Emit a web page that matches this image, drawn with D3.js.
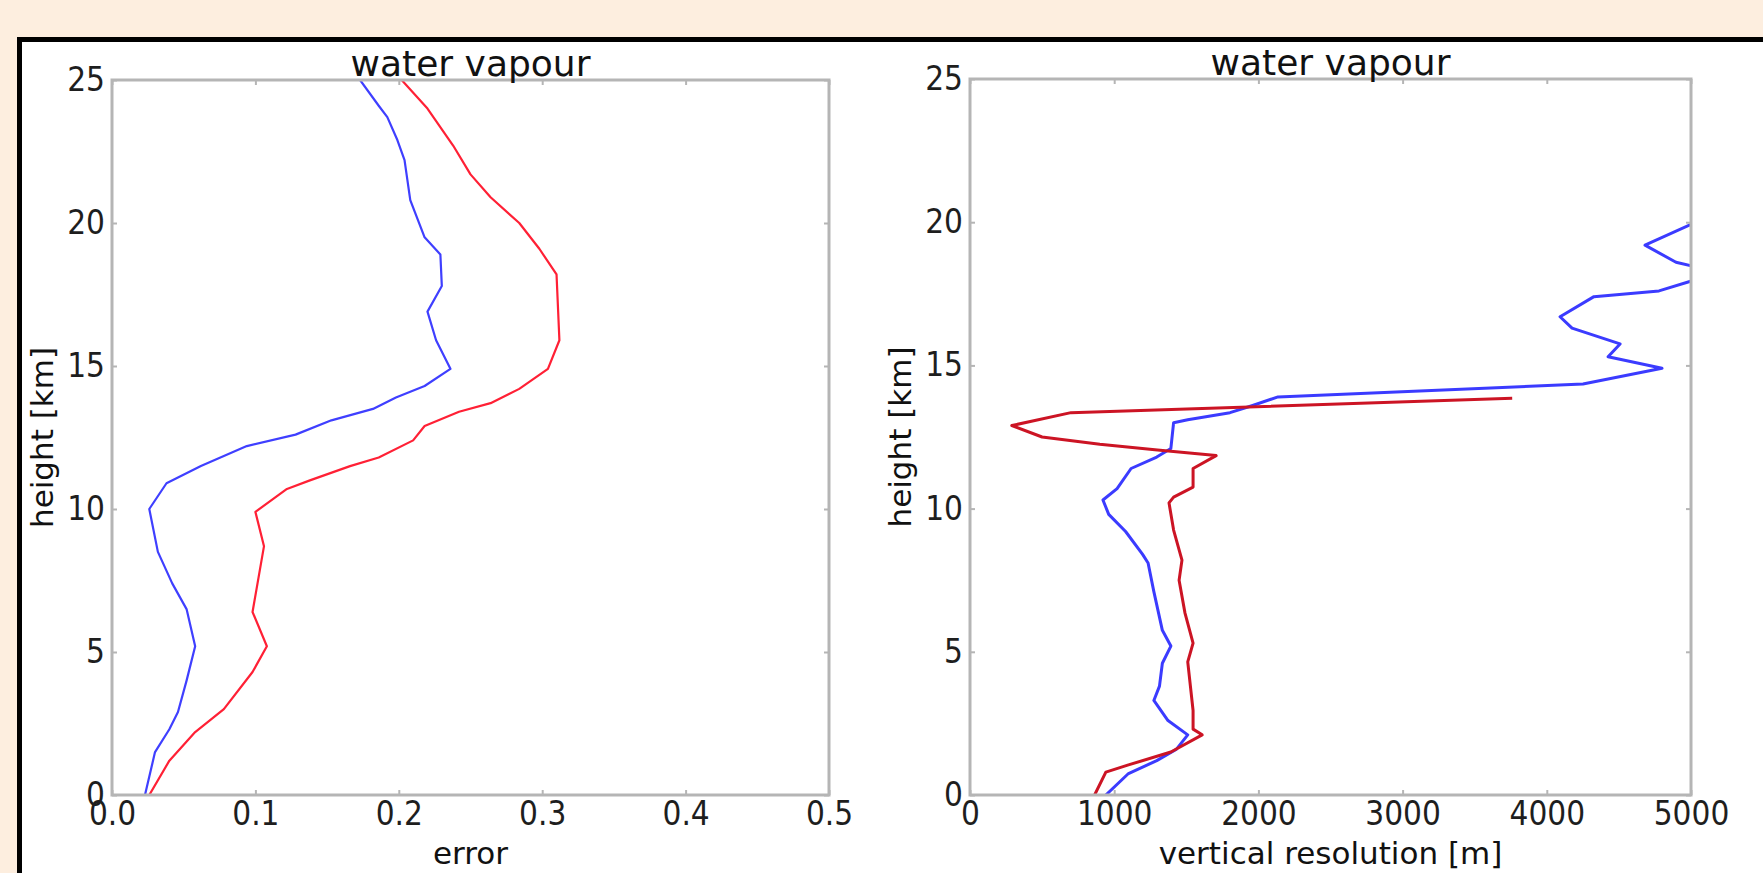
<!DOCTYPE html>
<html>
<head>
<meta charset="utf-8">
<script src="https://cdn.jsdelivr.net/npm/d3@7"></script>
<style>
  html, body { margin: 0; padding: 0; background: #fdeedf; overflow: hidden; }
  svg { display: block; }
</style>
</head>
<body>
<div id="chart"></div>
<script>
// error profile (left panel), heights in km
const errBlueH = [0, 1.5, 2.3, 2.9, 4.0, 5.2, 6.5, 7.4, 8.5, 10.0, 10.9, 11.5, 12.2, 12.6, 13.1, 13.5, 13.9, 14.3, 14.9, 15.9, 16.9, 17.8, 18.9, 19.5, 20.8, 22.2, 22.9, 23.7, 24.1, 25]
const errBlue = [0.023, 0.030, 0.040, 0.046, 0.052, 0.058, 0.052, 0.042, 0.032, 0.026, 0.038, 0.062, 0.094, 0.128, 0.153, 0.182, 0.198, 0.218, 0.236, 0.226, 0.220, 0.230, 0.229, 0.218, 0.208, 0.204, 0.199, 0.192, 0.186, 0.173]

const errRedH = [0, 1.2, 2.2, 3.0, 4.3, 5.2, 6.4, 8.7, 9.9, 10.7, 11.0, 11.5, 11.8, 12.4, 12.9, 13.4, 13.7, 14.2, 14.9, 15.9, 18.2, 19.1, 20.0, 20.9, 21.7, 22.7, 24.0, 25]
const errRed = [0.026, 0.040, 0.058, 0.078, 0.098, 0.108, 0.098, 0.106, 0.100, 0.122, 0.138, 0.166, 0.186, 0.210, 0.218, 0.242, 0.264, 0.284, 0.304, 0.312, 0.310, 0.298, 0.284, 0.264, 0.250, 0.238, 0.220, 0.202]

// vertical resolution profile (right panel), metres
const resBlueH = [0, 0.75, 1.2, 1.6, 2.1, 2.6, 3.3, 3.8, 4.6, 5.2, 5.75, 7.1, 8.1, 8.4, 9.2, 9.8, 10.3, 10.7, 11.4, 11.8, 12.1, 13.0, 13.1, 13.35, 13.6, 13.9, 14.35, 14.9, 15.3, 15.75, 16.3, 16.7, 17.4, 17.6, 18.25, 18.6, 19.2, 20.6]
const resBlue = [942, 1099, 1295, 1432, 1510, 1373, 1275, 1314, 1334, 1393, 1334, 1275, 1235, 1197, 1079, 962, 922, 1020, 1117, 1295, 1393, 1412, 1510, 1803, 1960, 2136, 4251, 4799, 4425, 4508, 4175, 4092, 4327, 4778, 5200, 4896, 4681, 5300]

const resRedH = [0, 0.8, 1.05, 1.5, 2.1, 2.3, 2.95, 4.65, 5.3, 6.35, 7.5, 8.2, 9.25, 10.2, 10.4, 10.75, 11.4, 11.85, 12.05, 12.25, 12.5, 12.9, 13.35, 13.85]
const resRed = [864, 942, 1099, 1393, 1610, 1547, 1547, 1510, 1547, 1491, 1450, 1470, 1412, 1380, 1412, 1547, 1547, 1707, 1300, 900, 500, 290, 700, 3760]

const heightTicks = [0, 5, 10, 15, 20, 25]
const errTicks = [0, 0.1, 0.2, 0.3, 0.4, 0.5]
const resTicks = [0, 1000, 2000, 3000, 4000, 5000]

const W = 1763, H = 873
const svg = d3.select("#chart").append("svg")
  .attr("width", W)
  .attr("height", H)

// white panel with black top/left edge
svg.append("rect").attr("x", 17).attr("y", 37).attr("width", W - 17).attr("height", H - 37).attr("fill", "#ffffff")
svg.append("rect").attr("x", 17).attr("y", 37).attr("width", W - 17).attr("height", 5).attr("fill", "#000000")
svg.append("rect").attr("x", 17).attr("y", 37).attr("width", 5).attr("height", H - 37).attr("fill", "#000000")

const tickFont = "'DejaVu Sans Condensed', 'DejaVu Sans', sans-serif"
const labelFont = "'DejaVu Sans', sans-serif"
const spineColor = "#b5b5b5"

function panel(opts) {
  const { left, right, top, bottom, xDomain, xTicks, xFormat, xLabel, series, width, id } = opts
  const x = d3.scaleLinear().domain(xDomain).range([left, right])
  const y = d3.scaleLinear().domain([0, 25]).range([bottom, top])

  const g = svg.append("g")

  svg.append("clipPath").attr("id", id)
    .append("rect").attr("x", left).attr("y", top).attr("width", right - left).attr("height", bottom - top)

  // lines
  const line = d3.line().x(d => x(d[0])).y(d => y(d[1]))
  series.forEach(s => {
    g.append("path")
      .datum(s.vals.map((v, i) => [v, s.hs[i]]))
      .attr("clip-path", `url(#${id})`)
      .attr("fill", "none")
      .attr("stroke", s.color)
      .attr("stroke-width", width)
      .attr("stroke-linejoin", "round")
      .attr("d", line)
  })

  // inward ticks on all sides
  const styleAxis = sel => {
    sel.select(".domain").remove()
    sel.selectAll(".tick line").attr("stroke", spineColor).attr("stroke-width", 2)
    sel.selectAll(".tick text")
      .attr("font-family", tickFont)
      .attr("font-size", 33)
      .attr("fill", "#1e1e1e")
  }

  g.append("g").attr("transform", `translate(0,${bottom})`)
    .call(d3.axisBottom(x).tickValues(xTicks).tickFormat(xFormat).tickSizeInner(-5).tickSizeOuter(0).tickPadding(7))
    .call(styleAxis)
  g.append("g").attr("transform", `translate(0,${top})`)
    .call(d3.axisTop(x).tickValues(xTicks).tickFormat("").tickSizeInner(-5).tickSizeOuter(0))
    .call(styleAxis)
  g.append("g").attr("transform", `translate(${left},0)`)
    .call(d3.axisLeft(y).tickValues(heightTicks).tickFormat(d3.format("d")).tickSizeInner(-5).tickSizeOuter(0).tickPadding(7))
    .call(styleAxis)
  g.append("g").attr("transform", `translate(${right},0)`)
    .call(d3.axisRight(y).tickValues(heightTicks).tickFormat("").tickSizeInner(-5).tickSizeOuter(0))
    .call(styleAxis)

  // frame
  g.append("rect")
    .attr("x", left).attr("y", top)
    .attr("width", right - left).attr("height", bottom - top)
    .attr("fill", "none")
    .attr("stroke", spineColor)
    .attr("stroke-width", 3)

  // texts
  g.append("text")
    .attr("x", (left + right) / 2).attr("y", top - 4)
    .attr("text-anchor", "middle")
    .attr("font-family", labelFont).attr("font-size", 36).attr("fill", "#111")
    .text("water vapour")
  g.append("text")
    .attr("x", (left + right) / 2).attr("y", bottom + 69)
    .attr("text-anchor", "middle")
    .attr("font-family", labelFont).attr("font-size", 31).attr("fill", "#111")
    .text(xLabel)
  g.append("text")
    .attr("transform", `translate(${left - 59},${(top + bottom) / 2}) rotate(-90)`)
    .attr("text-anchor", "middle")
    .attr("font-family", labelFont).attr("font-size", 31).attr("fill", "#111")
    .text("height [km]")
}

panel({
  id: "clipL", left: 112, right: 829, top: 80, bottom: 795,
  xDomain: [0, 0.5], xTicks: errTicks, xFormat: d3.format(".1f"), xLabel: "error", width: 2.2,
  series: [
    { hs: errBlueH, vals: errBlue, color: "#3f3fff" },
    { hs: errRedH, vals: errRed, color: "#ff2035" }
  ]
})

panel({
  id: "clipR", left: 970, right: 1691, top: 79, bottom: 795,
  xDomain: [0, 5000], xTicks: resTicks, xFormat: d3.format("d"), xLabel: "vertical resolution [m]", width: 3,
  series: [
    { hs: resBlueH, vals: resBlue, color: "#3b3bff" },
    { hs: resRedH, vals: resRed, color: "#cc1424" }
  ]
})
</script>
</body>
</html>
